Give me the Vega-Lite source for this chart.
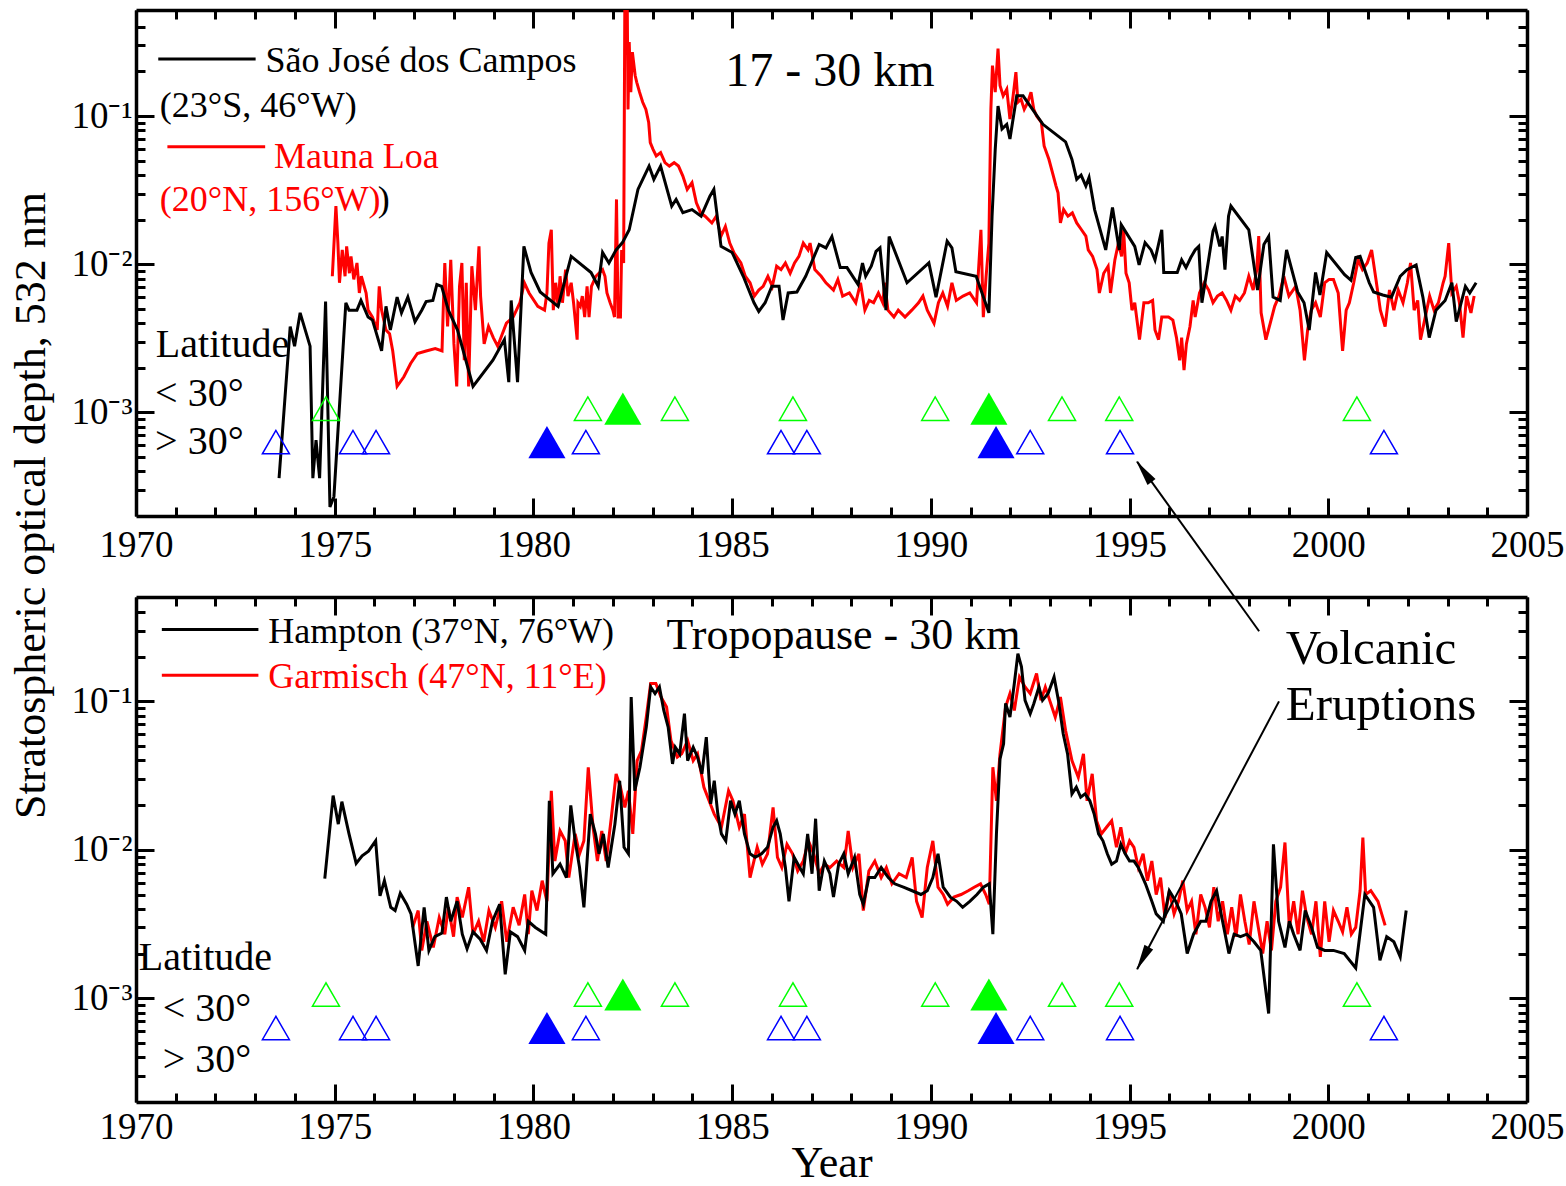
{
"$schema":"https://vega.github.io/schema/vega-lite/v6.json",
"background":"white",
"padding":{"left":8,"top":8,"right":2,"bottom":0},
"bounds":"flush",
"spacing":81,
"config":{"view":{"stroke":null},"font":"Liberation Serif",
"axis":{"domainColor":"black","tickColor":"black","labelColor":"black","labelFont":"Liberation Serif","labelFontSize":37,"titleFont":"Liberation Serif","titleFontSize":44,"titleFontWeight":"normal","titleColor":"black","grid":false,"labelFlush":false,"labelOverlap":false,"labelBound":false,"domainWidth":3.5,"tickWidth":3}},
"datasets":{
"sjc":[{"year":1973.60,"tau":0.00036},{"year":1973.88,"tau":0.0038},{"year":1973.99,"tau":0.0028},{"year":1974.13,"tau":0.0047},{"year":1974.38,"tau":0.0028},{"year":1974.45,"tau":0.00036},{"year":1974.53,"tau":0.00065},{"year":1974.62,"tau":0.00036},{"year":1974.77,"tau":0.0056},{"year":1974.88,"tau":0.00023},{"year":1974.98,"tau":0.00027},{"year":1975.28,"tau":0.0055},{"year":1975.36,"tau":0.0049},{"year":1975.56,"tau":0.0049},{"year":1975.66,"tau":0.0057},{"year":1975.84,"tau":0.0044},{"year":1975.95,"tau":0.0042},{"year":1976.18,"tau":0.0026},{"year":1976.29,"tau":0.0052},{"year":1976.40,"tau":0.0036},{"year":1976.57,"tau":0.0060},{"year":1976.68,"tau":0.0047},{"year":1976.84,"tau":0.0060},{"year":1977.02,"tau":0.0041},{"year":1977.19,"tau":0.0049},{"year":1977.30,"tau":0.0056},{"year":1977.47,"tau":0.0057},{"year":1977.57,"tau":0.0073},{"year":1977.69,"tau":0.0071},{"year":1977.86,"tau":0.0049},{"year":1978.09,"tau":0.0036},{"year":1978.48,"tau":0.0015},{"year":1978.98,"tau":0.00225},{"year":1979.27,"tau":0.0031},{"year":1979.38,"tau":0.0016},{"year":1979.44,"tau":0.0057},{"year":1979.60,"tau":0.0016},{"year":1979.76,"tau":0.0132},{"year":1979.94,"tau":0.0088},{"year":1980.17,"tau":0.0065},{"year":1980.62,"tau":0.0052},{"year":1980.95,"tau":0.0113},{"year":1981.45,"tau":0.0088},{"year":1981.63,"tau":0.0071},{"year":1981.74,"tau":0.012},{"year":1981.90,"tau":0.0102},{"year":1982.08,"tau":0.0125},{"year":1982.24,"tau":0.014},{"year":1982.41,"tau":0.0171},{"year":1982.63,"tau":0.032},{"year":1982.75,"tau":0.0374},{"year":1982.91,"tau":0.046},{"year":1983.03,"tau":0.0374},{"year":1983.20,"tau":0.046},{"year":1983.48,"tau":0.0247},{"year":1983.59,"tau":0.0274},{"year":1983.76,"tau":0.0223},{"year":1983.99,"tau":0.0234},{"year":1984.22,"tau":0.0211},{"year":1984.44,"tau":0.0288},{"year":1984.54,"tau":0.032},{"year":1984.72,"tau":0.0132},{"year":1985.00,"tau":0.012},{"year":1985.28,"tau":0.0083},{"year":1985.55,"tau":0.0055},{"year":1985.67,"tau":0.0048},{"year":1985.83,"tau":0.0055},{"year":1986.00,"tau":0.0071},{"year":1986.18,"tau":0.0071},{"year":1986.28,"tau":0.0042},{"year":1986.41,"tau":0.0064},{"year":1986.63,"tau":0.0065},{"year":1986.85,"tau":0.0083},{"year":1987.19,"tau":0.0136},{"year":1987.36,"tau":0.0129},{"year":1987.51,"tau":0.0154},{"year":1987.72,"tau":0.0095},{"year":1987.89,"tau":0.0095},{"year":1988.17,"tau":0.0073},{"year":1988.28,"tau":0.0102},{"year":1988.36,"tau":0.0083},{"year":1988.50,"tau":0.0097},{"year":1988.62,"tau":0.0122},{"year":1988.72,"tau":0.0129},{"year":1988.87,"tau":0.0049},{"year":1988.95,"tau":0.0154},{"year":1989.40,"tau":0.0075},{"year":1989.95,"tau":0.0102},{"year":1990.13,"tau":0.006},{"year":1990.41,"tau":0.0143},{"year":1990.53,"tau":0.0129},{"year":1990.63,"tau":0.0089},{"year":1991.14,"tau":0.0083},{"year":1991.46,"tau":0.0047},{"year":1991.54,"tau":0.0211},{"year":1991.62,"tau":0.06},{"year":1991.69,"tau":0.117},{"year":1991.79,"tau":0.082},{"year":1991.91,"tau":0.088},{"year":1991.99,"tau":0.07},{"year":1992.16,"tau":0.137},{"year":1992.32,"tau":0.137},{"year":1992.82,"tau":0.088},{"year":1993.39,"tau":0.067},{"year":1993.55,"tau":0.051},{"year":1993.67,"tau":0.0374},{"year":1993.78,"tau":0.04},{"year":1993.90,"tau":0.0337},{"year":1993.98,"tau":0.0385},{"year":1994.12,"tau":0.0234},{"year":1994.40,"tau":0.0125},{"year":1994.57,"tau":0.0242},{"year":1994.74,"tau":0.0125},{"year":1994.79,"tau":0.0185},{"year":1995.13,"tau":0.0132},{"year":1995.24,"tau":0.0099},{"year":1995.39,"tau":0.014},{"year":1995.54,"tau":0.0125},{"year":1995.64,"tau":0.0107},{"year":1995.81,"tau":0.0171},{"year":1995.86,"tau":0.0088},{"year":1996.20,"tau":0.0088},{"year":1996.31,"tau":0.0107},{"year":1996.42,"tau":0.0095},{"year":1996.54,"tau":0.0111},{"year":1996.65,"tau":0.0125},{"year":1996.74,"tau":0.0132},{"year":1996.82,"tau":0.0055},{"year":1997.10,"tau":0.0167},{"year":1997.15,"tau":0.018},{"year":1997.27,"tau":0.0132},{"year":1997.33,"tau":0.0154},{"year":1997.40,"tau":0.0092},{"year":1997.49,"tau":0.0211},{"year":1997.55,"tau":0.0247},{"year":1998.00,"tau":0.0171},{"year":1998.22,"tau":0.0067},{"year":1998.38,"tau":0.0136},{"year":1998.50,"tau":0.0154},{"year":1998.61,"tau":0.006},{"year":1998.79,"tau":0.0057},{"year":1998.95,"tau":0.0125},{"year":1999.23,"tau":0.0065},{"year":1999.39,"tau":0.0055},{"year":1999.52,"tau":0.0036},{"year":1999.68,"tau":0.0088},{"year":1999.79,"tau":0.0062},{"year":1999.96,"tau":0.012},{"year":2000.41,"tau":0.0085},{"year":2000.57,"tau":0.0078},{"year":2000.69,"tau":0.0111},{"year":2000.80,"tau":0.0113},{"year":2001.03,"tau":0.0075},{"year":2001.14,"tau":0.0065},{"year":2001.37,"tau":0.0062},{"year":2001.59,"tau":0.006},{"year":2001.81,"tau":0.0083},{"year":2001.98,"tau":0.0092},{"year":2002.21,"tau":0.0099},{"year":2002.38,"tau":0.006},{"year":2002.54,"tau":0.0032},{"year":2002.71,"tau":0.0049},{"year":2002.94,"tau":0.0057},{"year":2003.11,"tau":0.0075},{"year":2003.22,"tau":0.0041},{"year":2003.45,"tau":0.0071},{"year":2003.56,"tau":0.0064},{"year":2003.72,"tau":0.0075}],
"mauna_loa":[{"year":1974.94,"tau":0.0083},{"year":1975.03,"tau":0.0247},{"year":1975.08,"tau":0.0139},{"year":1975.12,"tau":0.0075},{"year":1975.19,"tau":0.0125},{"year":1975.26,"tau":0.0083},{"year":1975.30,"tau":0.0132},{"year":1975.37,"tau":0.0087},{"year":1975.41,"tau":0.0113},{"year":1975.48,"tau":0.0079},{"year":1975.56,"tau":0.0102},{"year":1975.62,"tau":0.0064},{"year":1975.67,"tau":0.0083},{"year":1975.79,"tau":0.0064},{"year":1975.84,"tau":0.0049},{"year":1975.95,"tau":0.0044},{"year":1976.07,"tau":0.0036},{"year":1976.12,"tau":0.0071},{"year":1976.18,"tau":0.0049},{"year":1976.29,"tau":0.0036},{"year":1976.38,"tau":0.0034},{"year":1976.46,"tau":0.0026},{"year":1976.57,"tau":0.0015},{"year":1976.74,"tau":0.00174},{"year":1976.91,"tau":0.00214},{"year":1977.08,"tau":0.0025},{"year":1977.30,"tau":0.0026},{"year":1977.53,"tau":0.0027},{"year":1977.70,"tau":0.0026},{"year":1977.73,"tau":0.0049},{"year":1977.77,"tau":0.0102},{"year":1977.84,"tau":0.0038},{"year":1977.92,"tau":0.0107},{"year":1978.00,"tau":0.0029},{"year":1978.07,"tau":0.0015},{"year":1978.14,"tau":0.0071},{"year":1978.20,"tau":0.0102},{"year":1978.26,"tau":0.00225},{"year":1978.31,"tau":0.0075},{"year":1978.37,"tau":0.0015},{"year":1978.45,"tau":0.0097},{"year":1978.54,"tau":0.0049},{"year":1978.63,"tau":0.0132},{"year":1978.67,"tau":0.0061},{"year":1978.76,"tau":0.0029},{"year":1978.87,"tau":0.0038},{"year":1978.99,"tau":0.0032},{"year":1979.10,"tau":0.0028},{"year":1979.32,"tau":0.004},{"year":1979.49,"tau":0.0044},{"year":1979.66,"tau":0.0055},{"year":1979.77,"tau":0.0075},{"year":1979.89,"tau":0.0064},{"year":1980.11,"tau":0.0052},{"year":1980.28,"tau":0.0049},{"year":1980.34,"tau":0.0064},{"year":1980.39,"tau":0.0139},{"year":1980.45,"tau":0.0171},{"year":1980.50,"tau":0.0049},{"year":1980.56,"tau":0.0075},{"year":1980.62,"tau":0.0052},{"year":1980.67,"tau":0.0083},{"year":1980.73,"tau":0.0055},{"year":1980.81,"tau":0.0092},{"year":1980.87,"tau":0.0061},{"year":1980.95,"tau":0.0075},{"year":1981.01,"tau":0.0055},{"year":1981.10,"tau":0.0031},{"year":1981.12,"tau":0.0055},{"year":1981.18,"tau":0.0052},{"year":1981.23,"tau":0.0061},{"year":1981.29,"tau":0.0044},{"year":1981.35,"tau":0.0071},{"year":1981.40,"tau":0.0044},{"year":1981.46,"tau":0.0071},{"year":1981.57,"tau":0.0083},{"year":1981.74,"tau":0.0092},{"year":1981.80,"tau":0.0083},{"year":1981.85,"tau":0.0064},{"year":1981.93,"tau":0.0055},{"year":1982.00,"tau":0.0049},{"year":1982.04,"tau":0.0044},{"year":1982.09,"tau":0.0274},{"year":1982.13,"tau":0.0044},{"year":1982.19,"tau":0.0044},{"year":1982.22,"tau":0.0125},{"year":1982.27,"tau":0.0102},{"year":1982.30,"tau":0.6},{"year":1982.36,"tau":0.6},{"year":1982.38,"tau":0.111},{"year":1982.41,"tau":0.316},{"year":1982.45,"tau":0.145},{"year":1982.49,"tau":0.27},{"year":1982.56,"tau":0.188},{"year":1982.60,"tau":0.169},{"year":1982.67,"tau":0.145},{"year":1982.75,"tau":0.124},{"year":1982.83,"tau":0.111},{"year":1982.90,"tau":0.0906},{"year":1982.94,"tau":0.0663},{"year":1983.01,"tau":0.0597},{"year":1983.09,"tau":0.0538},{"year":1983.20,"tau":0.0567},{"year":1983.31,"tau":0.0485},{"year":1983.42,"tau":0.046},{"year":1983.54,"tau":0.0485},{"year":1983.65,"tau":0.046},{"year":1983.76,"tau":0.0394},{"year":1983.87,"tau":0.032},{"year":1983.99,"tau":0.0355},{"year":1984.10,"tau":0.026},{"year":1984.21,"tau":0.0222},{"year":1984.32,"tau":0.0211},{"year":1984.49,"tau":0.019},{"year":1984.60,"tau":0.0211},{"year":1984.72,"tau":0.0155},{"year":1984.83,"tau":0.018},{"year":1984.94,"tau":0.0139},{"year":1985.05,"tau":0.0119},{"year":1985.22,"tau":0.0102},{"year":1985.33,"tau":0.0083},{"year":1985.45,"tau":0.0075},{"year":1985.56,"tau":0.0061},{"year":1985.67,"tau":0.0067},{"year":1985.78,"tau":0.0071},{"year":1985.90,"tau":0.0083},{"year":1986.01,"tau":0.0071},{"year":1986.12,"tau":0.0097},{"year":1986.23,"tau":0.0092},{"year":1986.34,"tau":0.0102},{"year":1986.46,"tau":0.0087},{"year":1986.57,"tau":0.0102},{"year":1986.68,"tau":0.0113},{"year":1986.79,"tau":0.0139},{"year":1986.91,"tau":0.0125},{"year":1986.96,"tau":0.0139},{"year":1987.08,"tau":0.0092},{"year":1987.24,"tau":0.0083},{"year":1987.36,"tau":0.0075},{"year":1987.55,"tau":0.0067},{"year":1987.66,"tau":0.0079},{"year":1987.78,"tau":0.0061},{"year":1987.95,"tau":0.0064},{"year":1988.11,"tau":0.0055},{"year":1988.23,"tau":0.0075},{"year":1988.34,"tau":0.0049},{"year":1988.45,"tau":0.0057},{"year":1988.56,"tau":0.0055},{"year":1988.68,"tau":0.0064},{"year":1988.79,"tau":0.0055},{"year":1988.84,"tau":0.0075},{"year":1988.92,"tau":0.0049},{"year":1989.07,"tau":0.0044},{"year":1989.18,"tau":0.0049},{"year":1989.35,"tau":0.0044},{"year":1989.52,"tau":0.0049},{"year":1989.69,"tau":0.0055},{"year":1989.80,"tau":0.0061},{"year":1989.91,"tau":0.0049},{"year":1990.08,"tau":0.004},{"year":1990.19,"tau":0.0055},{"year":1990.30,"tau":0.0064},{"year":1990.42,"tau":0.0052},{"year":1990.53,"tau":0.0075},{"year":1990.64,"tau":0.0057},{"year":1990.81,"tau":0.0061},{"year":1990.98,"tau":0.0064},{"year":1991.15,"tau":0.0055},{"year":1991.26,"tau":0.0171},{"year":1991.32,"tau":0.0044},{"year":1991.39,"tau":0.0083},{"year":1991.46,"tau":0.0139},{"year":1991.51,"tau":0.111},{"year":1991.55,"tau":0.219},{"year":1991.62,"tau":0.145},{"year":1991.69,"tau":0.285},{"year":1991.74,"tau":0.161},{"year":1991.82,"tau":0.137},{"year":1991.91,"tau":0.152},{"year":1991.99,"tau":0.0955},{"year":1992.07,"tau":0.137},{"year":1992.14,"tau":0.198},{"year":1992.19,"tau":0.124},{"year":1992.27,"tau":0.13},{"year":1992.35,"tau":0.111},{"year":1992.44,"tau":0.124},{"year":1992.52,"tau":0.145},{"year":1992.59,"tau":0.111},{"year":1992.66,"tau":0.1},{"year":1992.78,"tau":0.0906},{"year":1992.85,"tau":0.0629},{"year":1992.97,"tau":0.0511},{"year":1993.06,"tau":0.0415},{"year":1993.15,"tau":0.0337},{"year":1993.20,"tau":0.0304},{"year":1993.26,"tau":0.019},{"year":1993.34,"tau":0.0234},{"year":1993.45,"tau":0.0211},{"year":1993.56,"tau":0.0222},{"year":1993.67,"tau":0.019},{"year":1993.79,"tau":0.0171},{"year":1993.90,"tau":0.0155},{"year":1993.96,"tau":0.0125},{"year":1994.07,"tau":0.0113},{"year":1994.18,"tau":0.0092},{"year":1994.24,"tau":0.0064},{"year":1994.35,"tau":0.0087},{"year":1994.46,"tau":0.0097},{"year":1994.52,"tau":0.0064},{"year":1994.63,"tau":0.0107},{"year":1994.72,"tau":0.0139},{"year":1994.80,"tau":0.0113},{"year":1994.85,"tau":0.0171},{"year":1994.91,"tau":0.0087},{"year":1994.99,"tau":0.0075},{"year":1995.06,"tau":0.0049},{"year":1995.13,"tau":0.0055},{"year":1995.25,"tau":0.0031},{"year":1995.36,"tau":0.0055},{"year":1995.47,"tau":0.0055},{"year":1995.58,"tau":0.0057},{"year":1995.64,"tau":0.0036},{"year":1995.73,"tau":0.0031},{"year":1995.81,"tau":0.0044},{"year":1995.98,"tau":0.0044},{"year":1996.09,"tau":0.0042},{"year":1996.18,"tau":0.0032},{"year":1996.26,"tau":0.00225},{"year":1996.31,"tau":0.0032},{"year":1996.37,"tau":0.00193},{"year":1996.43,"tau":0.0029},{"year":1996.52,"tau":0.0038},{"year":1996.60,"tau":0.0057},{"year":1996.65,"tau":0.0044},{"year":1996.76,"tau":0.0064},{"year":1996.88,"tau":0.0075},{"year":1996.99,"tau":0.0067},{"year":1997.10,"tau":0.0055},{"year":1997.21,"tau":0.0061},{"year":1997.33,"tau":0.0064},{"year":1997.44,"tau":0.0057},{"year":1997.55,"tau":0.0049},{"year":1997.66,"tau":0.0061},{"year":1997.77,"tau":0.0057},{"year":1997.89,"tau":0.0064},{"year":1998.00,"tau":0.0083},{"year":1998.11,"tau":0.0067},{"year":1998.20,"tau":0.0092},{"year":1998.25,"tau":0.0155},{"year":1998.31,"tau":0.0047},{"year":1998.43,"tau":0.0031},{"year":1998.54,"tau":0.004},{"year":1998.65,"tau":0.0052},{"year":1998.76,"tau":0.0061},{"year":1998.88,"tau":0.0083},{"year":1999.01,"tau":0.0061},{"year":1999.18,"tau":0.0071},{"year":1999.29,"tau":0.0049},{"year":1999.40,"tau":0.00225},{"year":1999.48,"tau":0.0036},{"year":1999.57,"tau":0.0049},{"year":1999.68,"tau":0.0055},{"year":1999.80,"tau":0.0044},{"year":1999.91,"tau":0.0075},{"year":2000.02,"tau":0.0079},{"year":2000.13,"tau":0.0079},{"year":2000.25,"tau":0.0064},{"year":2000.36,"tau":0.0026},{"year":2000.45,"tau":0.0049},{"year":2000.53,"tau":0.0055},{"year":2000.64,"tau":0.0075},{"year":2000.75,"tau":0.0107},{"year":2000.86,"tau":0.0092},{"year":2000.98,"tau":0.0102},{"year":2001.09,"tau":0.0125},{"year":2001.20,"tau":0.0079},{"year":2001.31,"tau":0.0049},{"year":2001.43,"tau":0.0038},{"year":2001.54,"tau":0.0067},{"year":2001.65,"tau":0.0049},{"year":2001.76,"tau":0.0067},{"year":2001.88,"tau":0.0055},{"year":2001.99,"tau":0.0075},{"year":2002.07,"tau":0.0102},{"year":2002.16,"tau":0.0049},{"year":2002.25,"tau":0.0057},{"year":2002.32,"tau":0.0031},{"year":2002.44,"tau":0.0044},{"year":2002.55,"tau":0.0061},{"year":2002.66,"tau":0.0049},{"year":2002.77,"tau":0.0055},{"year":2002.89,"tau":0.0075},{"year":2002.94,"tau":0.0083},{"year":2003.03,"tau":0.0139},{"year":2003.11,"tau":0.0064},{"year":2003.22,"tau":0.0071},{"year":2003.30,"tau":0.0055},{"year":2003.39,"tau":0.0032},{"year":2003.48,"tau":0.0061},{"year":2003.59,"tau":0.0047},{"year":2003.67,"tau":0.0061}],
"hampton":[{"year":1974.75,"tau":0.0064},{"year":1974.96,"tau":0.0232},{"year":1975.09,"tau":0.0149},{"year":1975.18,"tau":0.0211},{"year":1975.36,"tau":0.0128},{"year":1975.54,"tau":0.0081},{"year":1975.69,"tau":0.0091},{"year":1975.85,"tau":0.0098},{"year":1976.03,"tau":0.0115},{"year":1976.14,"tau":0.0049},{"year":1976.25,"tau":0.0062},{"year":1976.41,"tau":0.0041},{"year":1976.52,"tau":0.0039},{"year":1976.65,"tau":0.0051},{"year":1976.81,"tau":0.0043},{"year":1976.92,"tau":0.0037},{"year":1977.10,"tau":0.00165},{"year":1977.25,"tau":0.0041},{"year":1977.37,"tau":0.0021},{"year":1977.52,"tau":0.0026},{"year":1977.70,"tau":0.00275},{"year":1977.81,"tau":0.0048},{"year":1977.92,"tau":0.0033},{"year":1978.08,"tau":0.0045},{"year":1978.21,"tau":0.0027},{"year":1978.33,"tau":0.00215},{"year":1978.48,"tau":0.0028},{"year":1978.66,"tau":0.0025},{"year":1978.82,"tau":0.0021},{"year":1978.97,"tau":0.0033},{"year":1979.15,"tau":0.0043},{"year":1979.29,"tau":0.00145},{"year":1979.42,"tau":0.0028},{"year":1979.60,"tau":0.0026},{"year":1979.78,"tau":0.0021},{"year":1979.87,"tau":0.0033},{"year":1980.05,"tau":0.003},{"year":1980.31,"tau":0.0027},{"year":1980.40,"tau":0.0214},{"year":1980.49,"tau":0.0069},{"year":1980.67,"tau":0.008},{"year":1980.83,"tau":0.0065},{"year":1980.94,"tau":0.0199},{"year":1981.05,"tau":0.0115},{"year":1981.16,"tau":0.0076},{"year":1981.27,"tau":0.0041},{"year":1981.43,"tau":0.0174},{"year":1981.56,"tau":0.0128},{"year":1981.65,"tau":0.0094},{"year":1981.76,"tau":0.0128},{"year":1981.88,"tau":0.0076},{"year":1982.05,"tau":0.0149},{"year":1982.17,"tau":0.0292},{"year":1982.28,"tau":0.0104},{"year":1982.39,"tau":0.0094},{"year":1982.46,"tau":0.107},{"year":1982.55,"tau":0.025},{"year":1982.68,"tau":0.036},{"year":1982.84,"tau":0.0671},{"year":1982.95,"tau":0.125},{"year":1983.06,"tau":0.113},{"year":1983.17,"tau":0.125},{"year":1983.28,"tau":0.0869},{"year":1983.39,"tau":0.0671},{"year":1983.50,"tau":0.0379},{"year":1983.57,"tau":0.0491},{"year":1983.68,"tau":0.0443},{"year":1983.80,"tau":0.0826},{"year":1983.88,"tau":0.0399},{"year":1984.02,"tau":0.0491},{"year":1984.13,"tau":0.0421},{"year":1984.24,"tau":0.0325},{"year":1984.35,"tau":0.0574},{"year":1984.46,"tau":0.0204},{"year":1984.55,"tau":0.0292},{"year":1984.64,"tau":0.0174},{"year":1984.73,"tau":0.0128},{"year":1984.84,"tau":0.0115},{"year":1984.96,"tau":0.0214},{"year":1985.07,"tau":0.0174},{"year":1985.18,"tau":0.0214},{"year":1985.31,"tau":0.0128},{"year":1985.45,"tau":0.0094},{"year":1985.58,"tau":0.0089},{"year":1985.74,"tau":0.0094},{"year":1985.89,"tau":0.0104},{"year":1986.03,"tau":0.0142},{"year":1986.12,"tau":0.0157},{"year":1986.21,"tau":0.0128},{"year":1986.34,"tau":0.0076},{"year":1986.43,"tau":0.0045},{"year":1986.56,"tau":0.0089},{"year":1986.70,"tau":0.0076},{"year":1986.79,"tau":0.0069},{"year":1986.90,"tau":0.0128},{"year":1987.01,"tau":0.0069},{"year":1987.10,"tau":0.0162},{"year":1987.19,"tau":0.0053},{"year":1987.32,"tau":0.0084},{"year":1987.46,"tau":0.0069},{"year":1987.55,"tau":0.0048},{"year":1987.68,"tau":0.008},{"year":1987.81,"tau":0.0094},{"year":1987.92,"tau":0.0069},{"year":1988.08,"tau":0.0089},{"year":1988.21,"tau":0.005},{"year":1988.30,"tau":0.0043},{"year":1988.44,"tau":0.0065},{"year":1988.59,"tau":0.0065},{"year":1988.75,"tau":0.0076},{"year":1988.93,"tau":0.0065},{"year":1989.09,"tau":0.0059},{"year":1989.31,"tau":0.0056},{"year":1989.53,"tau":0.0053},{"year":1989.75,"tau":0.005},{"year":1989.91,"tau":0.0053},{"year":1990.05,"tau":0.0065},{"year":1990.18,"tau":0.0094},{"year":1990.31,"tau":0.0056},{"year":1990.49,"tau":0.0048},{"year":1990.65,"tau":0.0045},{"year":1990.80,"tau":0.0041},{"year":1990.98,"tau":0.0045},{"year":1991.16,"tau":0.005},{"year":1991.32,"tau":0.0056},{"year":1991.47,"tau":0.0059},{"year":1991.56,"tau":0.0027},{"year":1991.65,"tau":0.0128},{"year":1991.74,"tau":0.041},{"year":1991.83,"tau":0.0518},{"year":1991.88,"tau":0.097},{"year":1991.99,"tau":0.0784},{"year":1992.10,"tau":0.132},{"year":1992.19,"tau":0.21},{"year":1992.28,"tau":0.171},{"year":1992.37,"tau":0.1016},{"year":1992.50,"tau":0.0826},{"year":1992.59,"tau":0.0965},{"year":1992.72,"tau":0.125},{"year":1992.81,"tau":0.1016},{"year":1992.95,"tau":0.113},{"year":1993.10,"tau":0.146},{"year":1993.21,"tau":0.1016},{"year":1993.33,"tau":0.0605},{"year":1993.44,"tau":0.0443},{"year":1993.55,"tau":0.0238},{"year":1993.66,"tau":0.0264},{"year":1993.77,"tau":0.0226},{"year":1993.88,"tau":0.0238},{"year":1994.00,"tau":0.0214},{"year":1994.11,"tau":0.0174},{"year":1994.22,"tau":0.0128},{"year":1994.33,"tau":0.0115},{"year":1994.44,"tau":0.0094},{"year":1994.55,"tau":0.008},{"year":1994.67,"tau":0.0084},{"year":1994.78,"tau":0.0109},{"year":1994.89,"tau":0.0094},{"year":1995.00,"tau":0.0084},{"year":1995.11,"tau":0.0084},{"year":1995.22,"tau":0.0076},{"year":1995.40,"tau":0.0059},{"year":1995.56,"tau":0.0045},{"year":1995.67,"tau":0.0037},{"year":1995.85,"tau":0.0033},{"year":1996.00,"tau":0.0053},{"year":1996.16,"tau":0.0045},{"year":1996.30,"tau":0.0037},{"year":1996.45,"tau":0.002},{"year":1996.61,"tau":0.0027},{"year":1996.79,"tau":0.0033},{"year":1996.92,"tau":0.0033},{"year":1997.05,"tau":0.0045},{"year":1997.19,"tau":0.0053},{"year":1997.34,"tau":0.0033},{"year":1997.50,"tau":0.002},{"year":1997.63,"tau":0.0027},{"year":1997.79,"tau":0.0026},{"year":1997.95,"tau":0.0027},{"year":1998.13,"tau":0.0024},{"year":1998.30,"tau":0.0021},{"year":1998.50,"tau":0.00079},{"year":1998.62,"tau":0.0109},{"year":1998.75,"tau":0.0033},{"year":1998.91,"tau":0.0022},{"year":1999.02,"tau":0.0033},{"year":1999.13,"tau":0.0027},{"year":1999.29,"tau":0.0021},{"year":1999.42,"tau":0.0039},{"year":1999.58,"tau":0.003},{"year":1999.73,"tau":0.0022},{"year":1999.91,"tau":0.0021},{"year":2000.13,"tau":0.0021},{"year":2000.40,"tau":0.002},{"year":2000.69,"tau":0.0016},{"year":2000.92,"tau":0.005},{"year":2001.14,"tau":0.0041},{"year":2001.30,"tau":0.0018},{"year":2001.47,"tau":0.0026},{"year":2001.65,"tau":0.0024},{"year":2001.81,"tau":0.0019},{"year":2001.96,"tau":0.0039}],
"garmisch":[{"year":1976.96,"tau":0.003},{"year":1977.10,"tau":0.0039},{"year":1977.19,"tau":0.0021},{"year":1977.32,"tau":0.0033},{"year":1977.48,"tau":0.0022},{"year":1977.63,"tau":0.0035},{"year":1977.77,"tau":0.0027},{"year":1977.86,"tau":0.0041},{"year":1977.99,"tau":0.0026},{"year":1978.08,"tau":0.0048},{"year":1978.21,"tau":0.0035},{"year":1978.37,"tau":0.0056},{"year":1978.48,"tau":0.0027},{"year":1978.62,"tau":0.0033},{"year":1978.75,"tau":0.0024},{"year":1978.88,"tau":0.0039},{"year":1979.04,"tau":0.003},{"year":1979.20,"tau":0.0045},{"year":1979.33,"tau":0.0024},{"year":1979.49,"tau":0.0041},{"year":1979.64,"tau":0.0031},{"year":1979.78,"tau":0.005},{"year":1979.87,"tau":0.0027},{"year":1979.96,"tau":0.0053},{"year":1980.09,"tau":0.0039},{"year":1980.22,"tau":0.0062},{"year":1980.34,"tau":0.0045},{"year":1980.45,"tau":0.025},{"year":1980.54,"tau":0.0084},{"year":1980.67,"tau":0.0134},{"year":1980.80,"tau":0.0115},{"year":1980.89,"tau":0.0065},{"year":1981.05,"tau":0.0128},{"year":1981.16,"tau":0.0094},{"year":1981.27,"tau":0.0115},{"year":1981.38,"tau":0.036},{"year":1981.50,"tau":0.0142},{"year":1981.61,"tau":0.0084},{"year":1981.72,"tau":0.0134},{"year":1981.83,"tau":0.0084},{"year":1981.96,"tau":0.0165},{"year":1982.08,"tau":0.0325},{"year":1982.19,"tau":0.0264},{"year":1982.30,"tau":0.0193},{"year":1982.39,"tau":0.025},{"year":1982.50,"tau":0.0128},{"year":1982.61,"tau":0.0399},{"year":1982.72,"tau":0.0467},{"year":1982.84,"tau":0.0784},{"year":1982.95,"tau":0.132},{"year":1983.08,"tau":0.132},{"year":1983.21,"tau":0.107},{"year":1983.35,"tau":0.0916},{"year":1983.46,"tau":0.0545},{"year":1983.62,"tau":0.0421},{"year":1983.73,"tau":0.0443},{"year":1983.88,"tau":0.0545},{"year":1984.02,"tau":0.0399},{"year":1984.13,"tau":0.0443},{"year":1984.29,"tau":0.0264},{"year":1984.42,"tau":0.0214},{"year":1984.55,"tau":0.0174},{"year":1984.73,"tau":0.0142},{"year":1984.91,"tau":0.025},{"year":1985.02,"tau":0.0214},{"year":1985.18,"tau":0.0142},{"year":1985.31,"tau":0.0174},{"year":1985.45,"tau":0.0065},{"year":1985.63,"tau":0.0104},{"year":1985.76,"tau":0.008},{"year":1985.89,"tau":0.0094},{"year":1986.03,"tau":0.0193},{"year":1986.14,"tau":0.0089},{"year":1986.25,"tau":0.0076},{"year":1986.38,"tau":0.0109},{"year":1986.52,"tau":0.0094},{"year":1986.65,"tau":0.0072},{"year":1986.79,"tau":0.0084},{"year":1986.92,"tau":0.0115},{"year":1987.05,"tau":0.0094},{"year":1987.19,"tau":0.0069},{"year":1987.32,"tau":0.008},{"year":1987.46,"tau":0.0076},{"year":1987.63,"tau":0.0084},{"year":1987.81,"tau":0.0076},{"year":1987.92,"tau":0.0134},{"year":1988.04,"tau":0.0076},{"year":1988.19,"tau":0.0094},{"year":1988.30,"tau":0.0039},{"year":1988.44,"tau":0.0072},{"year":1988.59,"tau":0.0084},{"year":1988.75,"tau":0.0065},{"year":1988.88,"tau":0.0076},{"year":1989.02,"tau":0.0059},{"year":1989.20,"tau":0.0069},{"year":1989.38,"tau":0.0065},{"year":1989.53,"tau":0.0089},{"year":1989.64,"tau":0.0045},{"year":1989.78,"tau":0.0035},{"year":1989.91,"tau":0.0076},{"year":1990.05,"tau":0.0115},{"year":1990.18,"tau":0.0056},{"year":1990.31,"tau":0.005},{"year":1990.42,"tau":0.0043},{"year":1990.58,"tau":0.0048},{"year":1990.76,"tau":0.005},{"year":1990.94,"tau":0.0053},{"year":1991.09,"tau":0.0056},{"year":1991.25,"tau":0.0059},{"year":1991.38,"tau":0.005},{"year":1991.47,"tau":0.0043},{"year":1991.56,"tau":0.036},{"year":1991.65,"tau":0.0214},{"year":1991.74,"tau":0.0443},{"year":1991.88,"tau":0.0916},{"year":1991.99,"tau":0.113},{"year":1992.10,"tau":0.0869},{"year":1992.23,"tau":0.146},{"year":1992.37,"tau":0.125},{"year":1992.50,"tau":0.113},{"year":1992.66,"tau":0.154},{"year":1992.77,"tau":0.1016},{"year":1992.88,"tau":0.125},{"year":1992.99,"tau":0.1016},{"year":1993.13,"tau":0.0784},{"year":1993.26,"tau":0.107},{"year":1993.39,"tau":0.0637},{"year":1993.55,"tau":0.0399},{"year":1993.71,"tau":0.0308},{"year":1993.84,"tau":0.0443},{"year":1993.93,"tau":0.0214},{"year":1994.06,"tau":0.0325},{"year":1994.17,"tau":0.0157},{"year":1994.29,"tau":0.0128},{"year":1994.42,"tau":0.0142},{"year":1994.55,"tau":0.0157},{"year":1994.67,"tau":0.0104},{"year":1994.78,"tau":0.0142},{"year":1994.89,"tau":0.0094},{"year":1995.00,"tau":0.0115},{"year":1995.11,"tau":0.0104},{"year":1995.22,"tau":0.0076},{"year":1995.34,"tau":0.0094},{"year":1995.45,"tau":0.0062},{"year":1995.56,"tau":0.0084},{"year":1995.67,"tau":0.005},{"year":1995.78,"tau":0.0065},{"year":1995.89,"tau":0.0035},{"year":1996.00,"tau":0.0053},{"year":1996.12,"tau":0.0037},{"year":1996.23,"tau":0.0045},{"year":1996.34,"tau":0.0062},{"year":1996.45,"tau":0.0039},{"year":1996.56,"tau":0.0045},{"year":1996.67,"tau":0.0027},{"year":1996.79,"tau":0.005},{"year":1996.90,"tau":0.0041},{"year":1997.01,"tau":0.003},{"year":1997.12,"tau":0.0056},{"year":1997.23,"tau":0.0033},{"year":1997.34,"tau":0.0045},{"year":1997.46,"tau":0.0027},{"year":1997.57,"tau":0.0041},{"year":1997.68,"tau":0.0026},{"year":1997.79,"tau":0.005},{"year":1997.90,"tau":0.0033},{"year":1998.01,"tau":0.0023},{"year":1998.13,"tau":0.0045},{"year":1998.24,"tau":0.003},{"year":1998.35,"tau":0.002},{"year":1998.46,"tau":0.0033},{"year":1998.57,"tau":0.0021},{"year":1998.68,"tau":0.0045},{"year":1998.80,"tau":0.0056},{"year":1998.91,"tau":0.0112},{"year":1999.02,"tau":0.003},{"year":1999.13,"tau":0.0045},{"year":1999.24,"tau":0.0027},{"year":1999.35,"tau":0.0053},{"year":1999.46,"tau":0.0035},{"year":1999.58,"tau":0.0027},{"year":1999.69,"tau":0.0045},{"year":1999.80,"tau":0.0019},{"year":1999.91,"tau":0.0045},{"year":2000.02,"tau":0.0024},{"year":2000.13,"tau":0.0039},{"year":2000.25,"tau":0.0033},{"year":2000.36,"tau":0.0028},{"year":2000.47,"tau":0.0041},{"year":2000.58,"tau":0.0027},{"year":2000.69,"tau":0.003},{"year":2000.80,"tau":0.0053},{"year":2000.87,"tau":0.0121},{"year":2000.94,"tau":0.005},{"year":2001.07,"tau":0.0053},{"year":2001.25,"tau":0.0045},{"year":2001.43,"tau":0.0031}],
"eruptions":[{"year":1974.78,"tau":0.00106,"band":"<30","kind":"minor"},{"year":1981.37,"tau":0.00106,"band":"<30","kind":"minor"},{"year":1983.56,"tau":0.00106,"band":"<30","kind":"minor"},{"year":1986.53,"tau":0.00106,"band":"<30","kind":"minor"},{"year":1990.11,"tau":0.00106,"band":"<30","kind":"minor"},{"year":1993.30,"tau":0.00106,"band":"<30","kind":"minor"},{"year":1994.74,"tau":0.00106,"band":"<30","kind":"minor"},{"year":2000.72,"tau":0.00106,"band":"<30","kind":"minor"},{"year":1982.25,"tau":0.00106,"band":"<30","kind":"major"},{"year":1991.46,"tau":0.00106,"band":"<30","kind":"major"},{"year":1973.52,"tau":0.00063,"band":">30","kind":"minor"},{"year":1975.46,"tau":0.00063,"band":">30","kind":"minor"},{"year":1976.04,"tau":0.00063,"band":">30","kind":"minor"},{"year":1981.32,"tau":0.00063,"band":">30","kind":"minor"},{"year":1986.23,"tau":0.00063,"band":">30","kind":"minor"},{"year":1986.88,"tau":0.00063,"band":">30","kind":"minor"},{"year":1992.50,"tau":0.00063,"band":">30","kind":"minor"},{"year":1994.76,"tau":0.00063,"band":">30","kind":"minor"},{"year":2001.40,"tau":0.00063,"band":">30","kind":"minor"},{"year":1980.34,"tau":0.00063,"band":">30","kind":"major"},{"year":1991.64,"tau":0.00063,"band":">30","kind":"major"}]
},
"vconcat":[
{"width":1391,"height":506,
"resolve":{"axis":{"x":"independent","y":"independent"}},
"layer":[
{"data":{"name":"mauna_loa"},"mark":{"type":"line","color":"#ff0000","strokeWidth":3,"clip":true},
"encoding":{"x":{"field":"year","type":"quantitative","scale":{"domain":[1970,2005],"nice":false,"zero":false},"axis":{"orient":"bottom","values":[1970,1975,1980,1985,1990,1995,2000,2005],"tickSize":-18,"labels":false,"domain":true,"title":null}},
"y":{"field":"tau","type":"quantitative","scale":{"type":"log","domain":[0.0002,0.52],"nice":false},"axis":{"orient":"left","values":[0.001,0.01,0.1],"tickSize":-18,"labels":false,"domain":true,"title":null}}}},
{"data":{"name":"sjc"},"mark":{"type":"line","color":"black","strokeWidth":3,"clip":true},
"encoding":{"x":{"field":"year","type":"quantitative","scale":{"domain":[1970,2005],"nice":false,"zero":false},"axis":{"orient":"bottom","values":[1971,1972,1973,1974,1976,1977,1978,1979,1981,1982,1983,1984,1986,1987,1988,1989,1991,1992,1993,1994,1996,1997,1998,1999,2001,2002,2003,2004],"tickSize":-9,"labels":false,"domain":false,"title":null}},
"y":{"field":"tau","type":"quantitative","scale":{"type":"log","domain":[0.0002,0.52],"nice":false},"axis":{"orient":"left","values":[0.0003,0.0004,0.0005,0.0006,0.0007,0.0008,0.0009,0.002,0.003,0.004,0.005,0.006,0.007,0.008,0.009,0.02,0.03,0.04,0.05,0.06,0.07,0.08,0.09,0.2,0.3,0.4],"tickSize":-9,"labels":false,"domain":false,"title":null}}}},
{"data":{"name":"eruptions"},"transform":[{"filter":"datum.kind === 'minor'"}],"mark":{"type":"point","shape":"triangle-up","filled":false,"size":730,"strokeWidth":1.5,"opacity":1},
"encoding":{"x":{"field":"year","type":"quantitative","scale":{"domain":[1970,2005],"nice":false,"zero":false},"axis":{"orient":"bottom","values":[1970,1975,1980,1985,1990,1995,2000,2005],"ticks":false,"labels":true,"domain":false,"format":"d","labelPadding":40,"labelBaseline":"alphabetic","title":null}},
"y":{"field":"tau","type":"quantitative","scale":{"type":"log","domain":[0.0002,0.52],"nice":false},"axis":{"orient":"left","values":[0.001,0.01,0.1],"ticks":false,"labels":true,"domain":false,"labelPadding":4,"labelExpr":"datum.value < 0.005 ? '10⁻³' : datum.value < 0.05 ? '10⁻²' : '10⁻¹'","title":"Stratospheric optical depth, 532 nm","titleX":-92,"titleY":495,"titleAngle":270,"titleAlign":"center","titleBaseline":"alphabetic"}},
"color":{"field":"band","type":"nominal","scale":{"domain":["<30",">30"],"range":["#00ff00","#0000ff"]},"legend":null}}},
{"data":{"name":"eruptions"},"transform":[{"filter":"datum.kind === 'major'"}],"mark":{"type":"point","shape":"triangle-up","filled":true,"size":1380,"opacity":1},
"encoding":{"x":{"field":"year","type":"quantitative","scale":{"domain":[1970,2005],"nice":false,"zero":false},"axis":{"orient":"top","values":[1970,1975,1980,1985,1990,1995,2000,2005],"tickSize":-18,"labels":false,"domain":true,"title":null}},
"y":{"field":"tau","type":"quantitative","scale":{"type":"log","domain":[0.0002,0.52],"nice":false},"axis":{"orient":"right","values":[0.001,0.01,0.1],"tickSize":-18,"labels":false,"domain":true,"title":null}},
"color":{"field":"band","type":"nominal","scale":{"domain":["<30",">30"],"range":["#00ff00","#0000ff"]},"legend":null}}},
{"data":{"values":[{"year":1970.56,"year2":1973.01,"tau":0.243}]},"mark":{"type":"rule","color":"black","strokeWidth":3},
"encoding":{"x":{"field":"year","type":"quantitative","scale":{"domain":[1970,2005],"nice":false,"zero":false},"axis":{"orient":"top","values":[1971,1972,1973,1974,1976,1977,1978,1979,1981,1982,1983,1984,1986,1987,1988,1989,1991,1992,1993,1994,1996,1997,1998,1999,2001,2002,2003,2004],"tickSize":-9,"labels":false,"domain":false,"title":null}},"x2":{"field":"year2"},
"y":{"field":"tau","type":"quantitative","scale":{"type":"log","domain":[0.0002,0.52],"nice":false},"axis":{"orient":"right","values":[0.0003,0.0004,0.0005,0.0006,0.0007,0.0008,0.0009,0.002,0.003,0.004,0.005,0.006,0.007,0.008,0.009,0.02,0.03,0.04,0.05,0.06,0.07,0.08,0.09,0.2,0.3,0.4],"tickSize":-9,"labels":false,"domain":false,"title":null}}}},
{"data":{"values":[{"year":1970.79,"year2":1973.25,"tau":0.062}]},"mark":{"type":"rule","color":"#ff0000","strokeWidth":3},
"encoding":{"x":{"field":"year","type":"quantitative","scale":{"domain":[1970,2005],"nice":false,"zero":false},"axis":null},"x2":{"field":"year2"},
"y":{"field":"tau","type":"quantitative","scale":{"type":"log","domain":[0.0002,0.52],"nice":false},"axis":null}}},
{"data":{"values":[{"t":"São José dos Campos","year":1973.26,"tau":0.198},{"t":"(23°S, 46°W)","year":1970.6,"tau":0.098},{"t":")","year":1976.08,"tau":0.0228}]},"mark":{"type":"text","align":"left","baseline":"alphabetic","font":"Liberation Serif","fontSize":36,"color":"black"},
"encoding":{"x":{"field":"year","type":"quantitative","scale":{"domain":[1970,2005],"nice":false,"zero":false},"axis":null},"y":{"field":"tau","type":"quantitative","scale":{"type":"log","domain":[0.0002,0.52],"nice":false},"axis":null},"text":{"field":"t"}}},
{"data":{"values":[{"t":"Mauna Loa","year":1973.47,"tau":0.0449},{"t":"(20°N, 156°W)","year":1970.6,"tau":0.0228}]},"mark":{"type":"text","align":"left","baseline":"alphabetic","font":"Liberation Serif","fontSize":36,"color":"#ff0000"},
"encoding":{"x":{"field":"year","type":"quantitative","scale":{"domain":[1970,2005],"nice":false,"zero":false},"axis":null},"y":{"field":"tau","type":"quantitative","scale":{"type":"log","domain":[0.0002,0.52],"nice":false},"axis":null},"text":{"field":"t"}}},
{"data":{"values":[{"t":"17 - 30 km","year":1987.46,"tau":0.159}]},"mark":{"type":"text","align":"center","baseline":"alphabetic","font":"Liberation Serif","fontSize":48,"color":"black"},
"encoding":{"x":{"field":"year","type":"quantitative","scale":{"domain":[1970,2005],"nice":false,"zero":false},"axis":null},"y":{"field":"tau","type":"quantitative","scale":{"type":"log","domain":[0.0002,0.52],"nice":false},"axis":null},"text":{"field":"t"}}},
{"data":{"values":[{"t":"Latitude","year":1970.5,"tau":0.00237},{"t":"< 30°","year":1970.48,"tau":0.00111},{"t":"> 30°","year":1970.48,"tau":0.000525}]},"mark":{"type":"text","align":"left","baseline":"alphabetic","font":"Liberation Serif","fontSize":40,"color":"black"},
"encoding":{"x":{"field":"year","type":"quantitative","scale":{"domain":[1970,2005],"nice":false,"zero":false},"axis":null},"y":{"field":"tau","type":"quantitative","scale":{"type":"log","domain":[0.0002,0.52],"nice":false},"axis":null},"text":{"field":"t"}}}
]},
{"width":1391,"height":505,
"resolve":{"axis":{"x":"independent","y":"independent"}},
"layer":[
{"data":{"name":"garmisch"},"mark":{"type":"line","color":"#ff0000","strokeWidth":3,"clip":true},
"encoding":{"x":{"field":"year","type":"quantitative","scale":{"domain":[1970,2005],"nice":false,"zero":false},"axis":{"orient":"bottom","values":[1970,1975,1980,1985,1990,1995,2000,2005],"tickSize":-18,"labels":false,"domain":true,"title":null}},
"y":{"field":"tau","type":"quantitative","scale":{"type":"log","domain":[0.0002,0.505],"nice":false},"axis":{"orient":"left","values":[0.001,0.01,0.1],"tickSize":-18,"labels":false,"domain":true,"title":null}}}},
{"data":{"name":"hampton"},"mark":{"type":"line","color":"black","strokeWidth":3,"clip":true},
"encoding":{"x":{"field":"year","type":"quantitative","scale":{"domain":[1970,2005],"nice":false,"zero":false},"axis":{"orient":"bottom","values":[1971,1972,1973,1974,1976,1977,1978,1979,1981,1982,1983,1984,1986,1987,1988,1989,1991,1992,1993,1994,1996,1997,1998,1999,2001,2002,2003,2004],"tickSize":-9,"labels":false,"domain":false,"title":null}},
"y":{"field":"tau","type":"quantitative","scale":{"type":"log","domain":[0.0002,0.505],"nice":false},"axis":{"orient":"left","values":[0.0003,0.0004,0.0005,0.0006,0.0007,0.0008,0.0009,0.002,0.003,0.004,0.005,0.006,0.007,0.008,0.009,0.02,0.03,0.04,0.05,0.06,0.07,0.08,0.09,0.2,0.3,0.4],"tickSize":-9,"labels":false,"domain":false,"title":null}}}},
{"data":{"name":"eruptions"},"transform":[{"filter":"datum.kind === 'minor'"}],"mark":{"type":"point","shape":"triangle-up","filled":false,"size":730,"strokeWidth":1.5,"opacity":1},
"encoding":{"x":{"field":"year","type":"quantitative","scale":{"domain":[1970,2005],"nice":false,"zero":false},"axis":{"orient":"bottom","values":[1970,1975,1980,1985,1990,1995,2000,2005],"ticks":false,"labels":true,"domain":false,"format":"d","labelPadding":36,"labelBaseline":"alphabetic","title":"Year","titleY":74,"titleBaseline":"alphabetic"}},
"y":{"field":"tau","type":"quantitative","scale":{"type":"log","domain":[0.0002,0.505],"nice":false},"axis":{"orient":"left","values":[0.001,0.01,0.1],"ticks":false,"labels":true,"domain":false,"labelPadding":4,"labelExpr":"datum.value < 0.005 ? '10⁻³' : datum.value < 0.05 ? '10⁻²' : '10⁻¹'","title":null}},
"color":{"field":"band","type":"nominal","scale":{"domain":["<30",">30"],"range":["#00ff00","#0000ff"]},"legend":null}}},
{"data":{"name":"eruptions"},"transform":[{"filter":"datum.kind === 'major'"}],"mark":{"type":"point","shape":"triangle-up","filled":true,"size":1380,"opacity":1},
"encoding":{"x":{"field":"year","type":"quantitative","scale":{"domain":[1970,2005],"nice":false,"zero":false},"axis":{"orient":"top","values":[1970,1975,1980,1985,1990,1995,2000,2005],"tickSize":-18,"labels":false,"domain":true,"title":null}},
"y":{"field":"tau","type":"quantitative","scale":{"type":"log","domain":[0.0002,0.505],"nice":false},"axis":{"orient":"right","values":[0.001,0.01,0.1],"tickSize":-18,"labels":false,"domain":true,"title":null}},
"color":{"field":"band","type":"nominal","scale":{"domain":["<30",">30"],"range":["#00ff00","#0000ff"]},"legend":null}}},
{"data":{"values":[{"year":1970.65,"year2":1973.08,"tau":0.305}]},"mark":{"type":"rule","color":"black","strokeWidth":3},
"encoding":{"x":{"field":"year","type":"quantitative","scale":{"domain":[1970,2005],"nice":false,"zero":false},"axis":{"orient":"top","values":[1971,1972,1973,1974,1976,1977,1978,1979,1981,1982,1983,1984,1986,1987,1988,1989,1991,1992,1993,1994,1996,1997,1998,1999,2001,2002,2003,2004],"tickSize":-9,"labels":false,"domain":false,"title":null}},"x2":{"field":"year2"},
"y":{"field":"tau","type":"quantitative","scale":{"type":"log","domain":[0.0002,0.505],"nice":false},"axis":{"orient":"right","values":[0.0003,0.0004,0.0005,0.0006,0.0007,0.0008,0.0009,0.002,0.003,0.004,0.005,0.006,0.007,0.008,0.009,0.02,0.03,0.04,0.05,0.06,0.07,0.08,0.09,0.2,0.3,0.4],"tickSize":-9,"labels":false,"domain":false,"title":null}}}},
{"data":{"values":[{"year":1970.65,"year2":1973.08,"tau":0.15}]},"mark":{"type":"rule","color":"#ff0000","strokeWidth":3},
"encoding":{"x":{"field":"year","type":"quantitative","scale":{"domain":[1970,2005],"nice":false,"zero":false},"axis":null},"x2":{"field":"year2"},
"y":{"field":"tau","type":"quantitative","scale":{"type":"log","domain":[0.0002,0.505],"nice":false},"axis":null}}},
{"data":{"values":[{"year":1998.26,"year2":1995.19,"tau":0.297,"tau2":4.12},{"year":1998.76,"year2":1995.19,"tau":0.1,"tau2":0.00157}]},"mark":{"type":"rule","color":"black","strokeWidth":2},
"encoding":{"x":{"field":"year","type":"quantitative","scale":{"domain":[1970,2005],"nice":false,"zero":false},"axis":null},"x2":{"field":"year2"},
"y":{"field":"tau","type":"quantitative","scale":{"type":"log","domain":[0.0002,0.505],"nice":false},"axis":null},"y2":{"field":"tau2"}}},
{"data":{"values":[{"year":1995.36,"tau":3.54}]},"mark":{"type":"point","shape":"M0,-1L0.38,1L-0.38,1Z","angle":324,"filled":true,"color":"black","size":676,"opacity":1},
"encoding":{"x":{"field":"year","type":"quantitative","scale":{"domain":[1970,2005],"nice":false,"zero":false},"axis":null},"y":{"field":"tau","type":"quantitative","scale":{"type":"log","domain":[0.0002,0.505],"nice":false},"axis":null}}},
{"data":{"values":[{"year":1995.33,"tau":0.00185}]},"mark":{"type":"point","shape":"M0,-1L0.38,1L-0.38,1Z","angle":208,"filled":true,"color":"black","size":676,"opacity":1},
"encoding":{"x":{"field":"year","type":"quantitative","scale":{"domain":[1970,2005],"nice":false,"zero":false},"axis":null},"y":{"field":"tau","type":"quantitative","scale":{"type":"log","domain":[0.0002,0.505],"nice":false},"axis":null}}},
{"data":{"values":[{"t":"Hampton (37°N, 76°W)","year":1973.33,"tau":0.248}]},"mark":{"type":"text","align":"left","baseline":"alphabetic","font":"Liberation Serif","fontSize":36,"color":"black"},
"encoding":{"x":{"field":"year","type":"quantitative","scale":{"domain":[1970,2005],"nice":false,"zero":false},"axis":null},"y":{"field":"tau","type":"quantitative","scale":{"type":"log","domain":[0.0002,0.505],"nice":false},"axis":null},"text":{"field":"t"}}},
{"data":{"values":[{"t":"Garmisch (47°N, 11°E)","year":1973.33,"tau":0.124}]},"mark":{"type":"text","align":"left","baseline":"alphabetic","font":"Liberation Serif","fontSize":36,"color":"#ff0000"},
"encoding":{"x":{"field":"year","type":"quantitative","scale":{"domain":[1970,2005],"nice":false,"zero":false},"axis":null},"y":{"field":"tau","type":"quantitative","scale":{"type":"log","domain":[0.0002,0.505],"nice":false},"axis":null},"text":{"field":"t"}}},
{"data":{"values":[{"t":"Tropopause - 30 km","year":1987.8,"tau":0.227}]},"mark":{"type":"text","align":"center","baseline":"alphabetic","font":"Liberation Serif","fontSize":44,"color":"black"},
"encoding":{"x":{"field":"year","type":"quantitative","scale":{"domain":[1970,2005],"nice":false,"zero":false},"axis":null},"y":{"field":"tau","type":"quantitative","scale":{"type":"log","domain":[0.0002,0.505],"nice":false},"axis":null},"text":{"field":"t"}}},
{"data":{"values":[{"t":"Volcanic","year":1998.93,"tau":0.178},{"t":"Eruptions","year":1998.93,"tau":0.0752}]},"mark":{"type":"text","align":"left","baseline":"alphabetic","font":"Liberation Serif","fontSize":49,"color":"black"},
"encoding":{"x":{"field":"year","type":"quantitative","scale":{"domain":[1970,2005],"nice":false,"zero":false},"axis":null},"y":{"field":"tau","type":"quantitative","scale":{"type":"log","domain":[0.0002,0.505],"nice":false},"axis":null},"text":{"field":"t"}}},
{"data":{"values":[{"t":"Latitude","year":1970.07,"tau":0.00156},{"t":"< 30°","year":1970.67,"tau":0.0007},{"t":"> 30°","year":1970.67,"tau":0.000321}]},"mark":{"type":"text","align":"left","baseline":"alphabetic","font":"Liberation Serif","fontSize":40,"color":"black"},
"encoding":{"x":{"field":"year","type":"quantitative","scale":{"domain":[1970,2005],"nice":false,"zero":false},"axis":null},"y":{"field":"tau","type":"quantitative","scale":{"type":"log","domain":[0.0002,0.505],"nice":false},"axis":null},"text":{"field":"t"}}}
]}
]
}
